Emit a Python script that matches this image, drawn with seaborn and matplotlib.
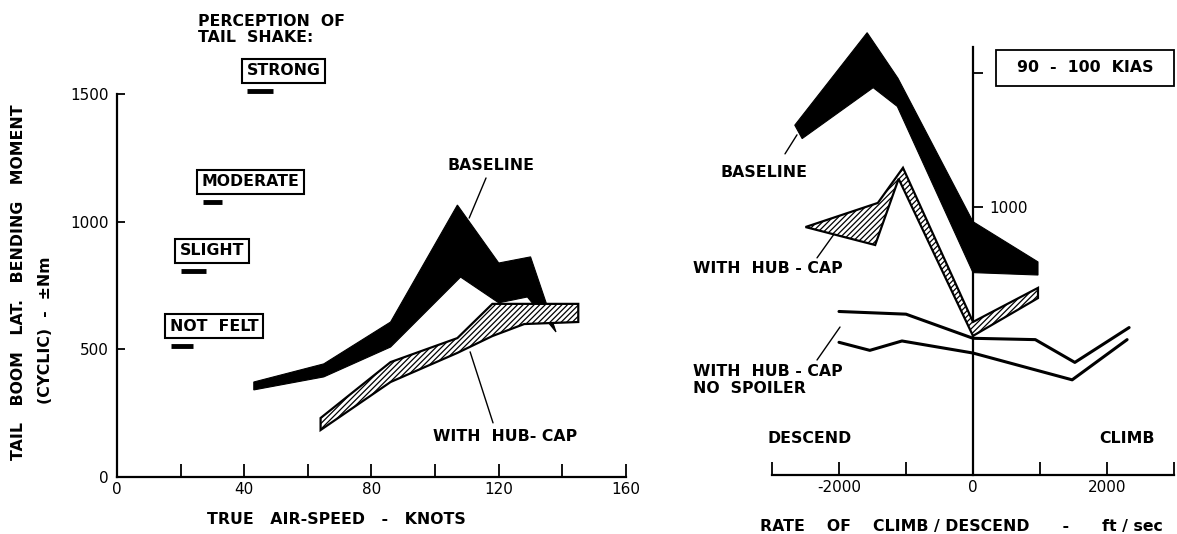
import numpy as np
import matplotlib
matplotlib.use("Agg")
import matplotlib.pyplot as plt
import seaborn as sns

# ---- tail boom bending moment vs true air-speed ----
speed_base_hi = [43, 65, 86, 107, 120, 130, 138]
moment_base_hi = [372, 443, 607, 1065, 838, 862, 568]
speed_base_lo = [43, 65, 86, 108, 120, 129, 138]
moment_base_lo = [341, 392, 509, 783, 682, 705, 568]

speed_hub = [64, 86, 107, 118, 128, 145]
moment_hub_hi = [231, 450, 544, 678, 678, 678]
moment_hub_lo = [184, 372, 486, 552, 599, 607]

shake_levels = ["NOT  FELT", "SLIGHT", "MODERATE", "STRONG"]
shake_speed_from = [17, 20, 27, 41]
shake_speed_to = [24, 28, 33, 49]
shake_moment = [513, 807, 1077, 1512]

# ---- rate of climb / descend at 90-100 KIAS ----
rate_base_hi = [-2660, -1580, -1120, 0, 970]
moment_rate_base_hi = [1305, 1650, 1480, 945, 795]
rate_base_lo = [-2550, -1490, -1130, 0, 970]
moment_rate_base_lo = [1255, 1445, 1375, 755, 746]

rate_hub_hi = [-2500, -1420, -1045, 0, 970]
moment_rate_hub_hi = [925, 1015, 1146, 571, 698]
rate_hub_lo = [-2500, -1460, -1110, 0, 970]
moment_rate_hub_lo = [925, 858, 1105, 519, 660]

rate_nosp_a = [-2000, -1000, 0, 930, 1520, 2330]
moment_nosp_a = [610, 600, 510, 505, 420, 550]
rate_nosp_b = [-2000, -1540, -1060, 0, 1480, 2300]
moment_nosp_b = [495, 465, 500, 455, 355, 505]

left_xticks = list(range(0, 161, 20))
left_xticklabels = [str(v) if v % 40 == 0 else "" for v in left_xticks]
left_yticks = [0, 500, 1000, 1500]
right_xticks = [-3000, -2000, -1000, 0, 1000, 2000, 3000]
right_xticklabels = ["", "-2000", "", "0", "", "2000", ""]
right_yticks = [1000, 1500]
right_yticklabels = ["1000", ""]

sns.set_theme(style="white")
plt.rcParams["font.family"] = ["DejaVu Sans"]
plt.rcParams["hatch.linewidth"] = 0.9
plt.rcParams["hatch.color"] = "black"

W, H = 1177, 534
fig = plt.figure(figsize=(W / 100, H / 100), dpi=100)
ax1 = fig.add_axes([117 / W, 57 / H, 509 / W, 477 / H])
ax2 = fig.add_axes([772 / W, 59 / H, 402 / W, 475 / H])
for ax in (ax1, ax2):
    ax.patch.set_visible(False)

BOLD = dict(fontweight="bold", fontsize=11.3, color="black")
INK = "black"


def band(ax, xh, yh, xl, yl, hatched):
    xs = np.concatenate([xh, xl[::-1]])
    ys = np.concatenate([yh, yl[::-1]])
    if hatched:
        ax.fill(xs, ys, facecolor="white", edgecolor=INK, hatch="//////", lw=1.6, zorder=3)
    else:
        ax.fill(xs, ys, facecolor=INK, edgecolor=INK, lw=0.8, zorder=2)


def leader(ax, xs, ys):
    sns.lineplot(x=xs, y=ys, ax=ax, color=INK, lw=1.0, sort=False, estimator=None)


# ---------------- left panel ----------------
ax1.set_xlim(0, 160)
ax1.set_ylim(0, 1868)
band(ax1, speed_base_hi, moment_base_hi, speed_base_lo, moment_base_lo, False)
band(ax1, speed_hub, moment_hub_hi, speed_hub, moment_hub_lo, True)

ax1.hlines(shake_moment, shake_speed_from, shake_speed_to, colors=INK, lw=3.5)
for name, x0, m in zip(shake_levels, shake_speed_from, shake_moment):
    ax1.annotate(name, xy=(x0, m), xytext=(-1, 20), textcoords="offset pixels",
                 ha="left", va="center", **BOLD,
                 bbox=dict(boxstyle="square,pad=0.3", fc="white", ec=INK, lw=1.5))
ax1.text(25.5, 1815, "PERCEPTION  OF\nTAIL  SHAKE:", ha="left", va="top",
         linespacing=1.15, **BOLD)

ax1.text(117.6, 1218, "BASELINE", ha="center", va="center", **BOLD)
leader(ax1, [116, 110.7], [1171, 1014])
ax1.text(99.4, 157, "WITH  HUB- CAP", ha="left", va="center", **BOLD)
leader(ax1, [111, 118.2], [490, 212])

ax1.set_xticks(left_xticks)
ax1.set_xticklabels(left_xticklabels)
ax1.set_yticks(left_yticks)
ax1.set_yticklabels([str(v) for v in left_yticks])
sns.despine(ax=ax1)
ax1.spines["left"].set_bounds(0, 1500)
ax1.spines["bottom"].set_bounds(0, 160)
for s in ("left", "bottom"):
    ax1.spines[s].set_linewidth(1.6)
    ax1.spines[s].set_color(INK)
ax1.tick_params(axis="x", bottom=True, direction="in", length=9.5, width=1.3, colors=INK,
                pad=3.5, labelsize=11)
ax1.tick_params(axis="y", left=True, direction="in", length=6, width=1.3, colors=INK,
                pad=6, labelsize=11)

fig.text(19 / W, 1 - 282 / H, "TAIL   BOOM   LAT.   BENDING   MOMENT", rotation=90,
         ha="center", va="center", **BOLD)
fig.text(46 / W, 1 - 330 / H, "(CYCLIC)  -  ±Nm", rotation=90,
         ha="center", va="center", **BOLD)
fig.text(207 / W, 1 - 519 / H, "TRUE   AIR-SPEED   -   KNOTS", ha="left", va="center", **BOLD)

# ---------------- right panel ----------------
ax2.set_xlim(-3000, 3000)
ax2.set_ylim(0, 1772)
band(ax2, rate_base_hi, moment_rate_base_hi, rate_base_lo, moment_rate_base_lo, False)
band(ax2, rate_hub_hi, moment_rate_hub_hi, rate_hub_lo, moment_rate_hub_lo, True)
sns.lineplot(x=rate_nosp_a, y=moment_nosp_a, ax=ax2, color=INK, lw=2.2, sort=False, estimator=None)
sns.lineplot(x=rate_nosp_b, y=moment_nosp_b, ax=ax2, color=INK, lw=2.2, sort=False, estimator=None)

ax2.text(-3776, 1127, "BASELINE", ha="left", va="center", **BOLD)
leader(ax2, [-2627, -2806], [1269, 1198])
ax2.text(-4179, 769, "WITH  HUB - CAP", ha="left", va="center", **BOLD)
leader(ax2, [-2030, -2328], [914, 810])
ax2.text(-4179, 414, "WITH  HUB - CAP\nNO  SPOILER", ha="left", va="top", linespacing=1.2, **BOLD)
leader(ax2, [-1985, -2328], [552, 429])
ax2.text(-3060, 138, "DESCEND", ha="left", va="center", **BOLD)
ax2.text(2716, 138, "CLIMB", ha="right", va="center", **BOLD)
ax2.text(1672, 1519, "  90  -  100  KIAS  ", ha="center", va="center",
         fontsize=11.3, fontweight="bold", color=INK,
         bbox=dict(boxstyle="square,pad=0.65", fc="white", ec=INK, lw=1.3))

ax2.set_xticks(right_xticks)
ax2.set_xticklabels(right_xticklabels)
ax2.set_yticks(right_yticks)
ax2.set_yticklabels(right_yticklabels)
sns.despine(ax=ax2)
ax2.spines["left"].set_position(("data", 0))
ax2.spines["left"].set_bounds(0, 1597)
ax2.spines["bottom"].set_bounds(-3000, 3000)
for s in ("left", "bottom"):
    ax2.spines[s].set_linewidth(1.6)
    ax2.spines[s].set_color(INK)
ax2.tick_params(axis="x", bottom=True, direction="in", length=9.5, width=1.3, colors=INK,
                pad=3.5, labelsize=11)
ax2.tick_params(axis="y", left=True, direction="in", length=7, width=1.3, colors=INK,
                pad=-12, labelsize=11)
for lbl in ax2.get_yticklabels():
    lbl.set_horizontalalignment("left")

fig.text(961 / W, 1 - 527 / H, "RATE    OF    CLIMB / DESCEND      -      ft / sec",
         ha="center", va="center", **BOLD)

fig.savefig("out.png", dpi=100, facecolor="white")
